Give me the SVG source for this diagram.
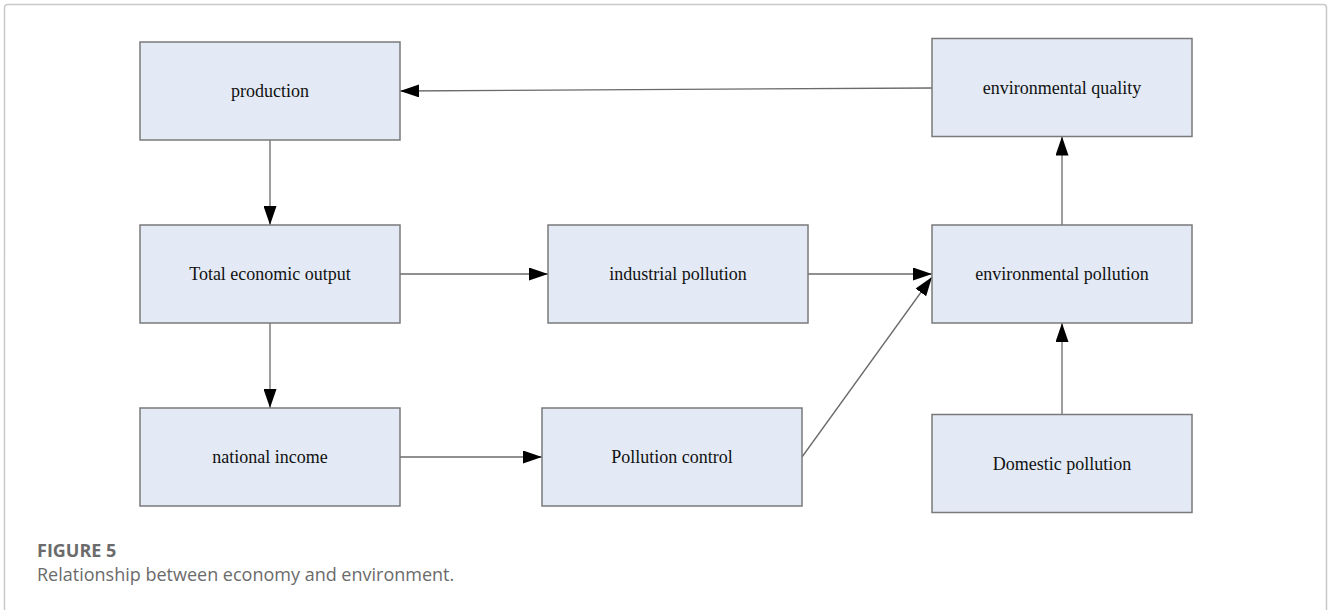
<svg xmlns="http://www.w3.org/2000/svg" width="1328" height="610" viewBox="0 0 1328 610">
  <defs>
    <style>
      .box { fill: #e3eaf5; stroke: #7a7a7a; stroke-width: 1.5; }
      .lbl { font-family: "Liberation Serif", "Times New Roman", serif; font-size: 18px; fill: #111; text-anchor: middle; }
      .edge { fill: none; stroke: #6a6a6a; stroke-width: 1.3; marker-end: url(#head); }
      .cap1 { font-family: "Open Sans", "Noto Sans", sans-serif; font-size: 18px; font-weight: bold; fill: #6b6b6b; }
      .cap2 { font-family: "Open Sans", "Noto Sans", sans-serif; font-size: 18px; fill: #6b6b6b; }
    </style>
    <marker id="head" markerWidth="19" markerHeight="13" refX="19" refY="6.5" orient="auto" markerUnits="userSpaceOnUse">
      <path d="M0,0 L19,6.5 L0,13 Z" fill="#000"/>
    </marker>
  </defs>

  <rect width="1328" height="610" fill="#fff"/>
  <!-- outer frame -->
  <rect x="4.5" y="4.5" width="1322" height="640" rx="3" fill="none" stroke="#c8c8c8" stroke-width="1.5"/>

  <g id="connectors">
    <line class="edge" x1="932" y1="88" x2="400" y2="91"/>
    <line class="edge" x1="270" y1="140" x2="270" y2="225"/>
    <line class="edge" x1="400" y1="274" x2="548" y2="274"/>
    <line class="edge" x1="808" y1="274" x2="932" y2="274"/>
    <line class="edge" x1="270" y1="323" x2="270" y2="408"/>
    <line class="edge" x1="400" y1="457" x2="542" y2="457"/>
    <line class="edge" x1="802" y1="457" x2="932" y2="277"/>
    <line class="edge" x1="1062" y1="225" x2="1062" y2="136.5"/>
    <line class="edge" x1="1062" y1="414.5" x2="1062" y2="323"/>
  </g>

  <g id="production">
    <rect class="box" x="140" y="42" width="260" height="98"/>
    <text class="lbl" x="270" y="97">production</text>
  </g>
  <g id="environmental-quality">
    <rect class="box" x="932" y="38.5" width="260" height="98"/>
    <text class="lbl" x="1062" y="94">environmental quality</text>
  </g>
  <g id="total-economic-output">
    <rect class="box" x="140" y="225" width="260" height="98"/>
    <text class="lbl" x="270" y="280">Total economic output</text>
  </g>
  <g id="industrial-pollution">
    <rect class="box" x="548" y="225" width="260" height="98"/>
    <text class="lbl" x="678" y="280">industrial pollution</text>
  </g>
  <g id="environmental-pollution">
    <rect class="box" x="932" y="225" width="260" height="98"/>
    <text class="lbl" x="1062" y="280">environmental pollution</text>
  </g>
  <g id="national-income">
    <rect class="box" x="140" y="408" width="260" height="98"/>
    <text class="lbl" x="270" y="463">national income</text>
  </g>
  <g id="pollution-control">
    <rect class="box" x="542" y="408" width="260" height="98"/>
    <text class="lbl" x="672" y="463">Pollution control</text>
  </g>
  <g id="domestic-pollution">
    <rect class="box" x="932" y="414.5" width="260" height="98"/>
    <text class="lbl" x="1062" y="470">Domestic pollution</text>
  </g>

  <text class="cap1" x="37" y="557">FIGURE 5</text>
  <text class="cap2" x="37" y="581">Relationship between economy and environment.</text>
</svg>
